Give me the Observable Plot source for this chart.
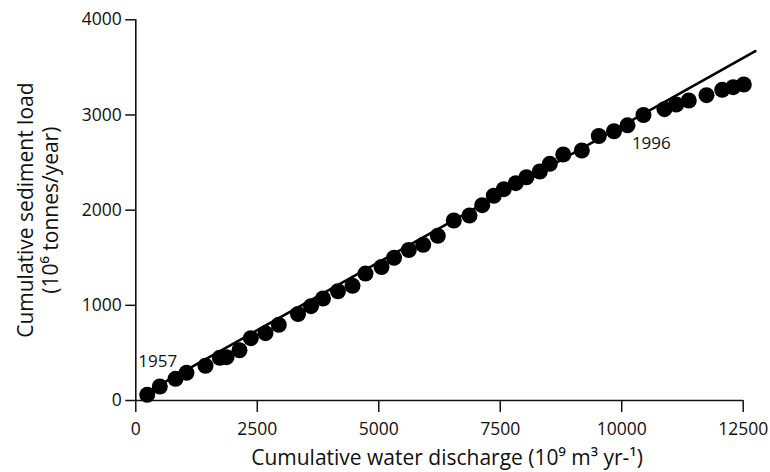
<!DOCTYPE html>
<html>
<head>
<meta charset="utf-8">
<script src="https://cdn.jsdelivr.net/npm/d3@7"></script>
<script src="https://cdn.jsdelivr.net/npm/@observablehq/plot@0.6"></script>
<style>
  html, body { margin: 0; padding: 0; background: #fff; }
  #chart svg [aria-label$="-axis tick"] path,
  #chart svg [aria-label$="-axis tick"] line { stroke-width: 1.5px; }
</style>
</head>
<body>
<div id="chart"></div>
<script>
// Cumulative water discharge (10^9 m3 yr-1)
const discharge = [235, 494, 817, 1043, 1434, 1729, 1867, 2134, 2367, 2669,
  2943, 3338, 3606, 3852, 4161, 4460, 4727, 5057, 5314, 5618,
  5915, 6215, 6544, 6867, 7129, 7367, 7573, 7820, 8040, 8314,
  8520, 8796, 9179, 9528, 9841, 10119, 10448, 10880, 11121, 11380,
  11745, 12068, 12294, 12512];
// Cumulative sediment load (10^6 tonnes/year)
const sediment = [60, 147, 228, 291, 365, 449, 455, 528, 655, 707,
  795, 909, 991, 1072, 1148, 1205, 1334, 1403, 1499, 1581,
  1636, 1730, 1891, 1944, 2052, 2151, 2220, 2283, 2346, 2406,
  2487, 2585, 2627, 2779, 2829, 2891, 3000, 3061, 3110, 3152,
  3208, 3264, 3292, 3320];
// Fitted trend line end points
const fitX = [200, 12750];
const fitY = [80, 3670];
// Year annotations
const yearLabels = ["1957", "1996"];
const yearX = [451, 10609];
const yearY = [407, 2701];
// Axis ticks
const xTicks = [0, 2500, 5000, 7500, 10000, 12500];
const yTicks = [0, 1000, 2000, 3000, 4000];
const xTitle = "Cumulative water discharge (10\u2079 m\u00B3 yr-\u00B9)";
const yTitle = "Cumulative sediment load\n(10\u2076 tonnes/year)";

const points = discharge.map((d, i) => ({x: d, y: sediment[i]}));
const fit = fitX.map((d, i) => ({x: d, y: fitY[i]}));
const years = yearLabels.map((t, i) => ({t, x: yearX[i], y: yearY[i]}));

const chart = Plot.plot({
  width: 770,
  height: 472,
  marginLeft: 135.3,
  marginRight: 27.3,
  marginTop: 19.3,
  marginBottom: 72,
  style: {fontFamily: "'Open Sans', sans-serif", fontSize: "17.5px", color: "#111", background: "#fff"},
  x: {domain: [0, 12500], ticks: xTicks, tickFormat: d3.format("d"), tickSize: 12, tickPadding: 10, label: null},
  y: {domain: [0, 4000], ticks: yTicks, tickFormat: d3.format("d"), tickSize: 10, tickPadding: 4, label: null},
  marks: [
    Plot.ruleY([0], {x1: 0, x2: 12500, stroke: "#111", strokeWidth: 1.6}),
    Plot.ruleX([0], {y1: 0, y2: 4000, stroke: "#111", strokeWidth: 1.6}),
    Plot.line(fit, {x: "x", y: "y", stroke: "#000", strokeWidth: 2.6}),
    Plot.dot(points, {x: "x", y: "y", r: 8, fill: "#000", stroke: "none"}),
    Plot.text(years, {x: "x", y: "y", text: "t", fontSize: 17, fill: "#111", textAnchor: "middle", lineAnchor: "middle"}),
    Plot.text([xTitle], {frameAnchor: "bottom", dx: 7.5, dy: 58, fontSize: 21, fill: "#111", textAnchor: "middle", lineAnchor: "middle"}),
    Plot.text([yTitle], {frameAnchor: "left", rotate: -90, dx: -98, fontSize: 21, lineHeight: 1.2, fill: "#111", textAnchor: "middle", lineAnchor: "middle"})
  ]
});
document.getElementById("chart").appendChild(chart);
</script>
</body>
</html>
